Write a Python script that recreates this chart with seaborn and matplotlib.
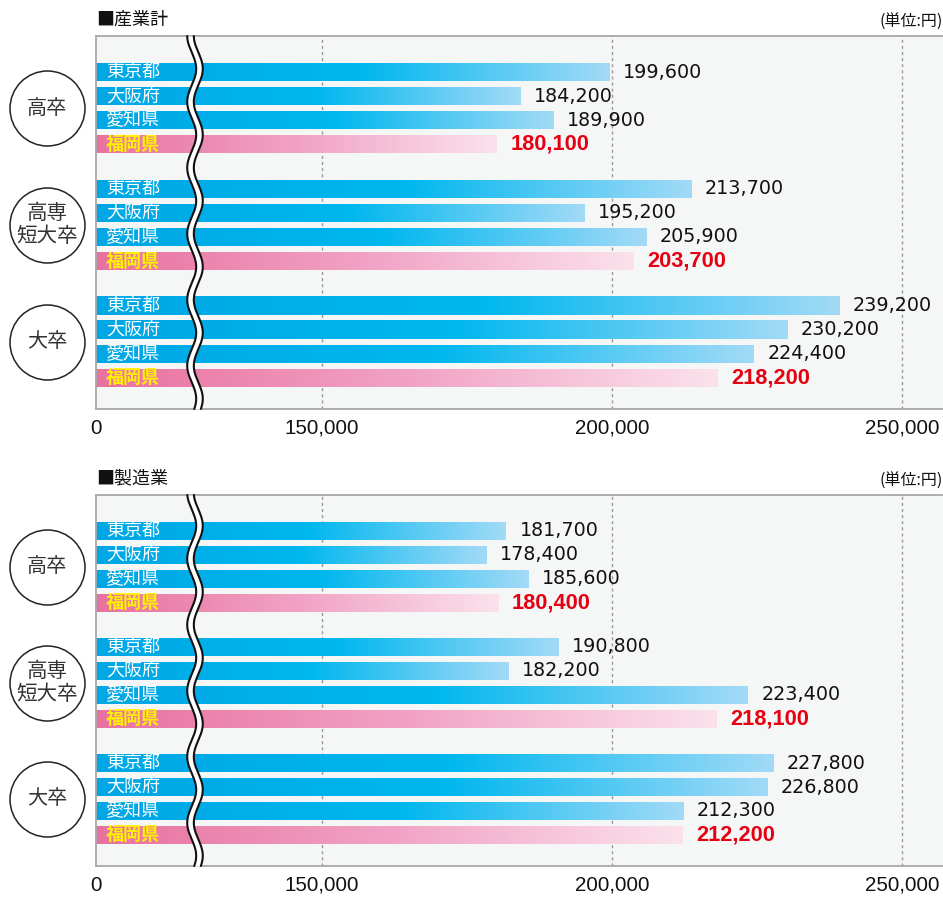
import numpy as np
import pandas as pd
import matplotlib
matplotlib.use('Agg')
import matplotlib.pyplot as plt
import seaborn as sns
from matplotlib import font_manager
from matplotlib.transforms import blended_transform_factory
from matplotlib.colors import LinearSegmentedColormap

# ---------------- data ----------------
groups = ['高卒', '高専\n短大卒', '大卒']
prefs = ['東京都', '大阪府', '愛知県', '福岡県']
panel_titles = ['■産業計', '■製造業']
unit_label = '(単位:円)'
sangyo = [199600, 184200, 189900, 180100,
          213700, 195200, 205900, 203700,
          239200, 230200, 224400, 218200]
seizo = [181700, 178400, 185600, 180400,
         190800, 182200, 223400, 218100,
         227800, 226800, 212300, 212200]
tick_values = [150000, 200000, 250000]
tick_labels = ['0', '150,000', '200,000', '250,000']

# ---------------- style ----------------
sns.set_style('white')
plt.rcParams['font.family'] = ['Noto Sans CJK JP', 'DejaVu Sans']

W, H = 943, 897
fig = plt.figure(figsize=(W / 100, H / 100), dpi=100)

PX_PER_UNIT = 290 / 50000.0
XMIN = 150000 - (322 - 96) / PX_PER_UNIT
XMAX = 250000 + (W - 902) / PX_PER_UNIT
GROUP_PITCH = 4.85
positions = [g * GROUP_PITCH + i for g in range(len(groups)) for i in range(len(prefs))]
YTOP, YBOT = -1.5, 2 * GROUP_PITCH + 3 + 1.3

avail = {f.name for f in font_manager.fontManager.ttflist}
if 'Liberation Sans Narrow' in avail:
    tick_font, tick_size = ['Liberation Sans Narrow'], 17.5
else:
    tick_font, tick_size = ['Liberation Sans'], 14.8

blue_cmap = LinearSegmentedColormap.from_list(
    'b', [(0, '#00a7e4'), (0.52, '#00b7ef'), (1, '#a2daf7')])
pink_cmap = LinearSegmentedColormap.from_list(
    'p', [(0, '#e8729f'), (0.5, '#f1a2c4'), (1, '#fbe1ec')])


def draw_break(ax, top_px, bot_px):
    hpx = bot_px - top_px
    wpx = W - 96
    xc = (195 - 96) / wpx
    t = np.linspace(0, 1, 400)
    ypix = t * hpx
    wave = 4.5 * np.sin(2 * np.pi * ypix / 66 + 0.6) / wpx
    half = 3.3 / wpx
    tr = ax.transAxes
    ax.fill_betweenx(t, xc + wave - half, xc + wave + half, color='white',
                     transform=tr, zorder=6, clip_on=False, lw=0)
    for s in (-1, 1):
        ax.plot(xc + wave + s * half, t, color='#111111', lw=1.5,
                transform=tr, zorder=7, clip_on=False)


def draw_panel(top_px, bot_px, values, title):
    ax = fig.add_axes([96 / W, 1 - bot_px / H, (W - 96) / W, (bot_px - top_px) / H])
    ax.set_facecolor('#f5f6f6')
    df = pd.DataFrame({'value': values, 'pos': positions, 'pref': prefs * len(groups)})

    for v in tick_values:
        ax.axvline(v, color='#9a9a9a', lw=1.0, ls=(0, (2.2, 2.2)), zorder=0.5)

    sns.barplot(data=df, x='value', y='pos', orient='h', native_scale=True,
                width=0.76, color='#00b0ec', errorbar=None, ax=ax, zorder=1)

    bars = sorted(ax.patches, key=lambda p: p.get_y())
    for p, (_, row) in zip(bars, df.sort_values('pos').iterrows()):
        cmap = pink_cmap if row['pref'] == '福岡県' else blue_cmap
        y0, h = p.get_y(), p.get_height()
        grad = cmap(np.linspace(0, 1, 256))[None, :, :3]
        im = ax.imshow(grad, extent=(XMIN, row['value'], y0 + h, y0), aspect='auto',
                       zorder=2, interpolation='bilinear')
        im.set_clip_path(p)
        p.set_facecolor('none')
        p.set_edgecolor('none')

    blend = blended_transform_factory(ax.transAxes, ax.transData)
    for _, row in df.iterrows():
        fk = row['pref'] == '福岡県'
        ax.annotate(row['pref'], xy=(0, row['pos']), xycoords=blend,
                    xytext=(7.3, 0), textcoords='offset points',
                    ha='left', va='center', fontsize=13,
                    color='#fff100' if fk else 'white',
                    fontweight='bold' if fk else 'normal', zorder=5)
        if fk:
            ax.annotate(f"{row['value']:,}", xy=(row['value'], row['pos']),
                        xytext=(9.8, 0), textcoords='offset points',
                        ha='left', va='center', fontsize=15.7, fontweight='bold',
                        color='#e60012', family=['Liberation Sans'], zorder=5)
        else:
            ax.annotate(f"{row['value']:,}", xy=(row['value'], row['pos']),
                        xytext=(9.8, 0), textcoords='offset points',
                        ha='left', va='center', fontsize=13.8,
                        color='#111111', family=['DejaVu Sans'], zorder=5)

    # group circles
    cx = (47 - 96) / (W - 96)
    for g, name in enumerate(groups):
        cy = g * GROUP_PITCH + 1.5
        ax.scatter([cx], [cy], s=(75 * 0.72) ** 2, facecolor='white',
                   edgecolor='#222222', linewidth=1.1, transform=blend,
                   clip_on=False, zorder=5)
        ax.text(cx, cy, name, transform=blend, ha='center', va='center',
                fontsize=14.5 if '\n' not in name else 14.8, color='#333333',
                linespacing=1.05, zorder=6)

    ax.set_xlim(XMIN, XMAX)
    ax.set_ylim(YBOT, YTOP)
    ax.set_xticks([XMIN] + tick_values)
    ax.set_xticklabels(tick_labels, family=tick_font, fontsize=tick_size, color='#111111')
    ax.set_yticks([])
    ax.set_xlabel('')
    ax.set_ylabel('')
    ax.tick_params(axis='x', length=0, pad=7)
    for side in ('left', 'bottom', 'top'):
        ax.spines[side].set_color('#a8a8a8')
        ax.spines[side].set_linewidth(1.3)
        ax.spines[side].set_visible(True)
    ax.spines['right'].set_visible(False)

    draw_break(ax, top_px, bot_px)

    fig.text(96 / W, 1 - (top_px - 16.5) / H, title, fontsize=13, ha='left',
             va='center', color='#111111')
    fig.text(0.9995, 1 - (top_px - 14) / H, unit_label, fontsize=11.5, ha='right',
             va='center', color='#111111')
    return ax


draw_panel(36, 409, sangyo, panel_titles[0])
draw_panel(495, 866, seizo, panel_titles[1])

fig.savefig('out.png', dpi=100, facecolor='white')
